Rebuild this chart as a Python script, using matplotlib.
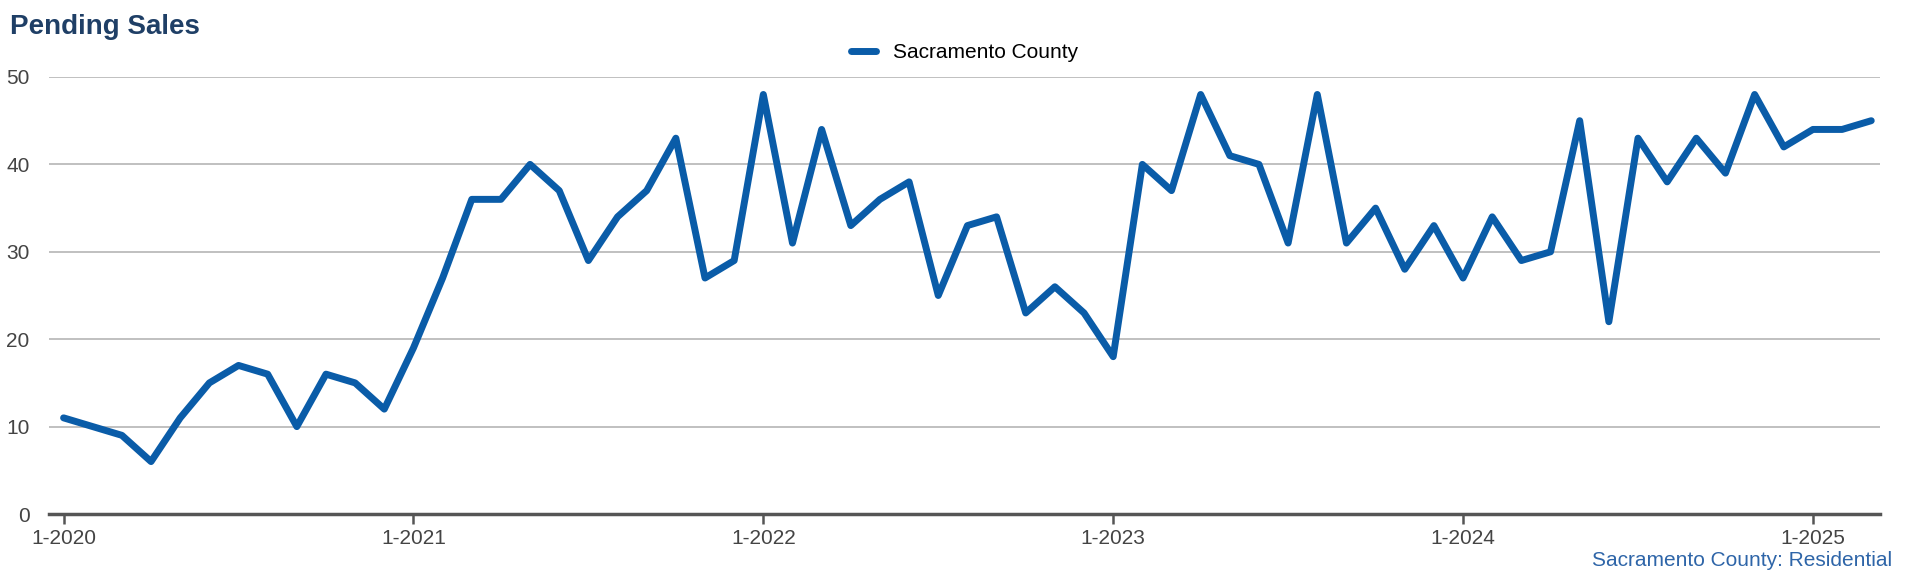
import matplotlib.pyplot as plt

plt.rcParams['font.family'] = ['Liberation Sans', 'DejaVu Sans']

# monthly pending sales, Jan 2020 .. Mar 2025
pending = [11, 10, 9, 6, 11, 15, 17, 16, 10, 16, 15, 12,
           19, 27, 36, 36, 40, 37, 29, 34, 37, 43, 27, 29,
           48, 31, 44, 33, 36, 38, 25, 33, 34, 23, 26, 23,
           18, 40, 37, 48, 41, 40, 31, 48, 31, 35, 28, 33,
           27, 34, 29, 30, 45, 22, 43, 38, 43, 39, 48, 42,
           44, 44, 45]
tick_labels = ['1-2020', '1-2021', '1-2022', '1-2023', '1-2024', '1-2025']
tick_pos = [0, 12, 24, 36, 48, 60]

W, H = 1920, 577
blue = '#0a5ca8'
fig = plt.figure(figsize=(19.2, 5.77), dpi=100)
ax = fig.add_axes([49/W, 1-514/H, (1880-49)/W, (514-77)/H])
ax.plot(range(len(pending)), pending, color=blue, lw=5, label='Sacramento County',
        solid_joinstyle='round', solid_capstyle='round')
ax.set_xlim(-0.5, 62.3)
ax.set_ylim(0, 50)
ax.set_yticks(range(0, 51, 10))
ax.set_xticks(tick_pos)
ax.set_xticklabels(tick_labels)
ax.grid(axis='y', color='#bbbbbb', lw=1.3)
ax.set_axisbelow(True)
for s in ['top', 'right', 'left']:
    ax.spines[s].set_visible(False)
ax.spines['bottom'].set_color('#555555')
ax.spines['bottom'].set_linewidth(2.5)
ax.tick_params(axis='y', length=0, labelsize=15, colors='#444444', pad=14)
ax.tick_params(axis='x', length=7, width=1.8, color='#555555', labelsize=15, labelcolor='#444444')
ax.legend(loc='lower center', bbox_to_anchor=(0.5, 1.0), frameon=False, fontsize=15,
          handlelength=1.2, borderaxespad=0.3)
fig.text(10/W, 1-27/H, 'Pending Sales', fontsize=20, fontweight='bold', color='#1f3f66', va='center')
fig.text(1892/W, 1-561/H, 'Sacramento County: Residential', fontsize=15, color='#2e65a8',
         ha='right', va='center')
fig.savefig('out.png')
